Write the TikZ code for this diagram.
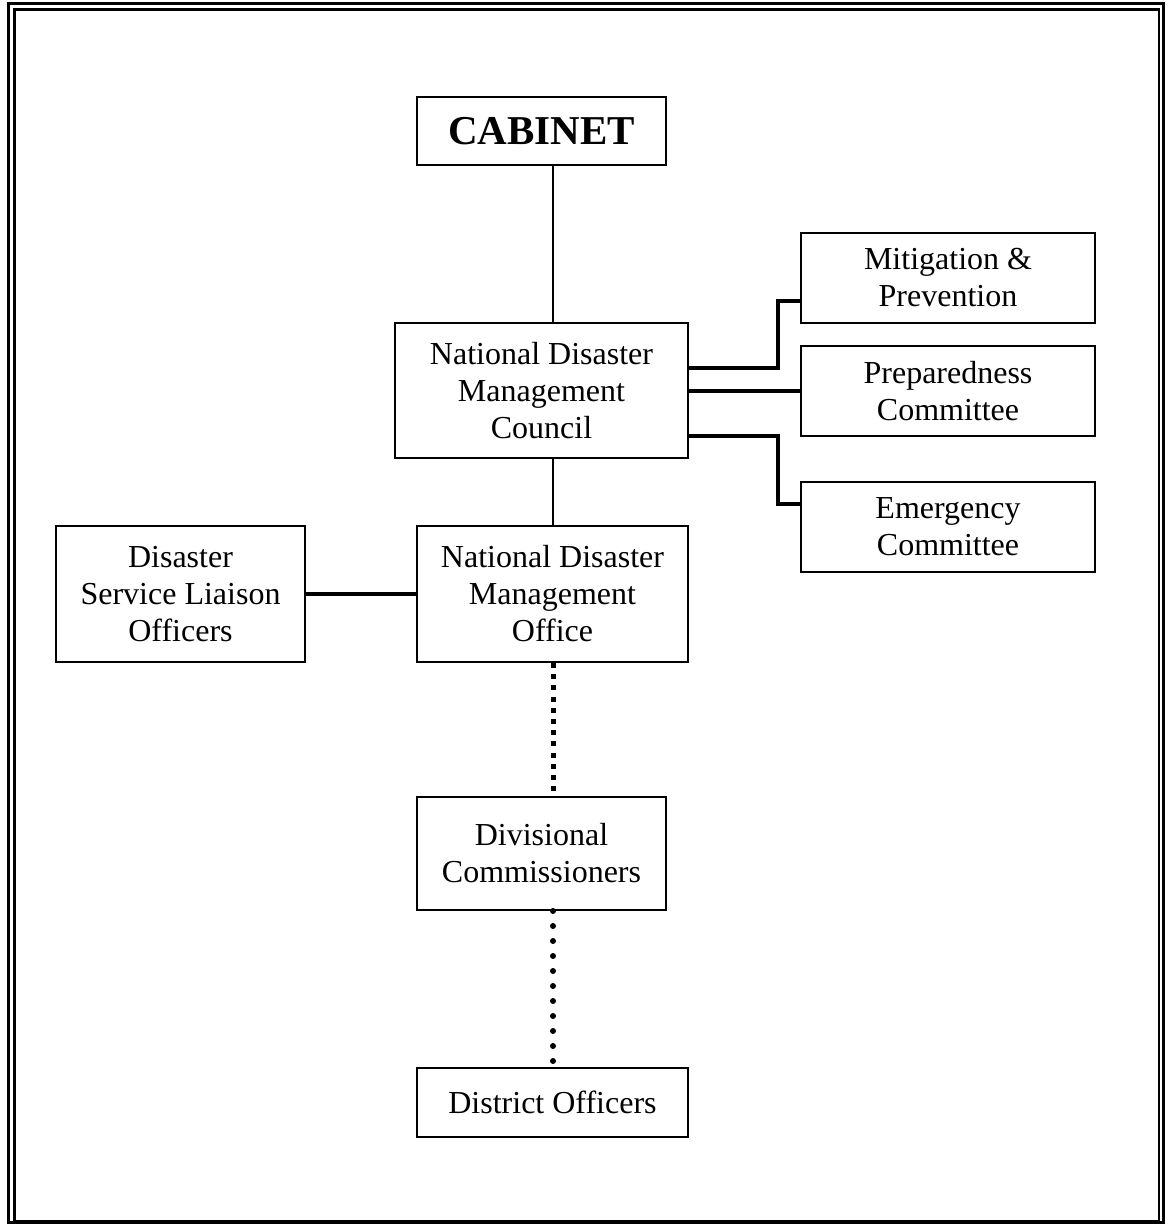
\documentclass[tikz,border=0pt]{standalone}
\usepackage{fontspec}
\setmainfont{Liberation Serif}
\begin{document}
\begin{tikzpicture}[x=0.5pt,y=-0.5pt,
  box/.style={draw, line width=1pt, align=center, inner sep=0pt,
    font=\fontsize{16}{18.5}\selectfont},
  thinlink/.style={line width=1pt},
  thicklink/.style={line width=2.3pt},
  squaredots/.style={line width=2.5pt, dash pattern=on 2.5pt off 3.1pt},
  rounddots/.style={line width=3pt, line cap=round, dash pattern=on 0pt off 7.5pt}]
\useasboundingbox (0,0) rectangle (1168,1224);
% double frame
\draw[line width=1.5pt] (8.5,4) rectangle (1163.5,1222);
\draw[line width=1.2pt] (14.5,9.5) rectangle (1159,1221);
% nodes
\node[box, minimum width=124.5pt, minimum height=34pt,
  font=\fontsize{20.5}{24}\selectfont\bfseries] (cab) at (541.5,131) {CABINET};
\node[box, minimum width=146.5pt, minimum height=67.5pt] (ndmc) at (541.5,390.5)
  {National Disaster\\Management\\Council};
\node[box, minimum width=147pt, minimum height=45pt] (mit) at (948,278)
  {Mitigation \&\\Prevention};
\node[box, minimum width=147pt, minimum height=45pt] (prep) at (948,391)
  {Preparedness\\Committee};
\node[box, minimum width=147pt, minimum height=45pt] (emer) at (948,527)
  {Emergency\\Committee};
\node[box, minimum width=124.5pt, minimum height=68pt] (dslo) at (180.5,594)
  {Disaster\\Service Liaison\\Officers};
\node[box, minimum width=135.5pt, minimum height=68pt] (ndmo) at (552.5,594)
  {National Disaster\\Management\\Office};
\node[box, minimum width=124.5pt, minimum height=56.5pt] (divc) at (541.5,853.5)
  {Divisional\\Commissioners};
\node[box, minimum width=135.5pt, minimum height=34.5pt] (dist) at (552.5,1102.5)
  {District Officers};
% helper coordinates
\coordinate (vx) at (553,0);
\coordinate (jx) at (778,0);
% connectors
\draw[thinlink] (cab.south -| vx) -- (ndmc.north -| vx);
\draw[thinlink] (ndmc.south -| vx) -- (ndmo.north -| vx);
\draw[thicklink] (ndmc.east |- 0,368) -- (jx |- 0,368) -- (jx |- 0,301) -- (mit.west |- 0,301);
\draw[thicklink] (ndmc.east |- prep.west) -- (prep.west);
\draw[thicklink] (ndmc.east |- 0,436) -- (jx |- 0,436) -- (jx |- 0,504) -- (emer.west |- 0,504);
\draw[thicklink] (dslo.east) -- (ndmo.west);
\draw[squaredots] (ndmo.south -| vx) -- (divc.north -| vx);
\draw[rounddots] (divc.south -| vx) -- ([yshift=-1pt]dist.north -| vx);
\end{tikzpicture}
\end{document}
